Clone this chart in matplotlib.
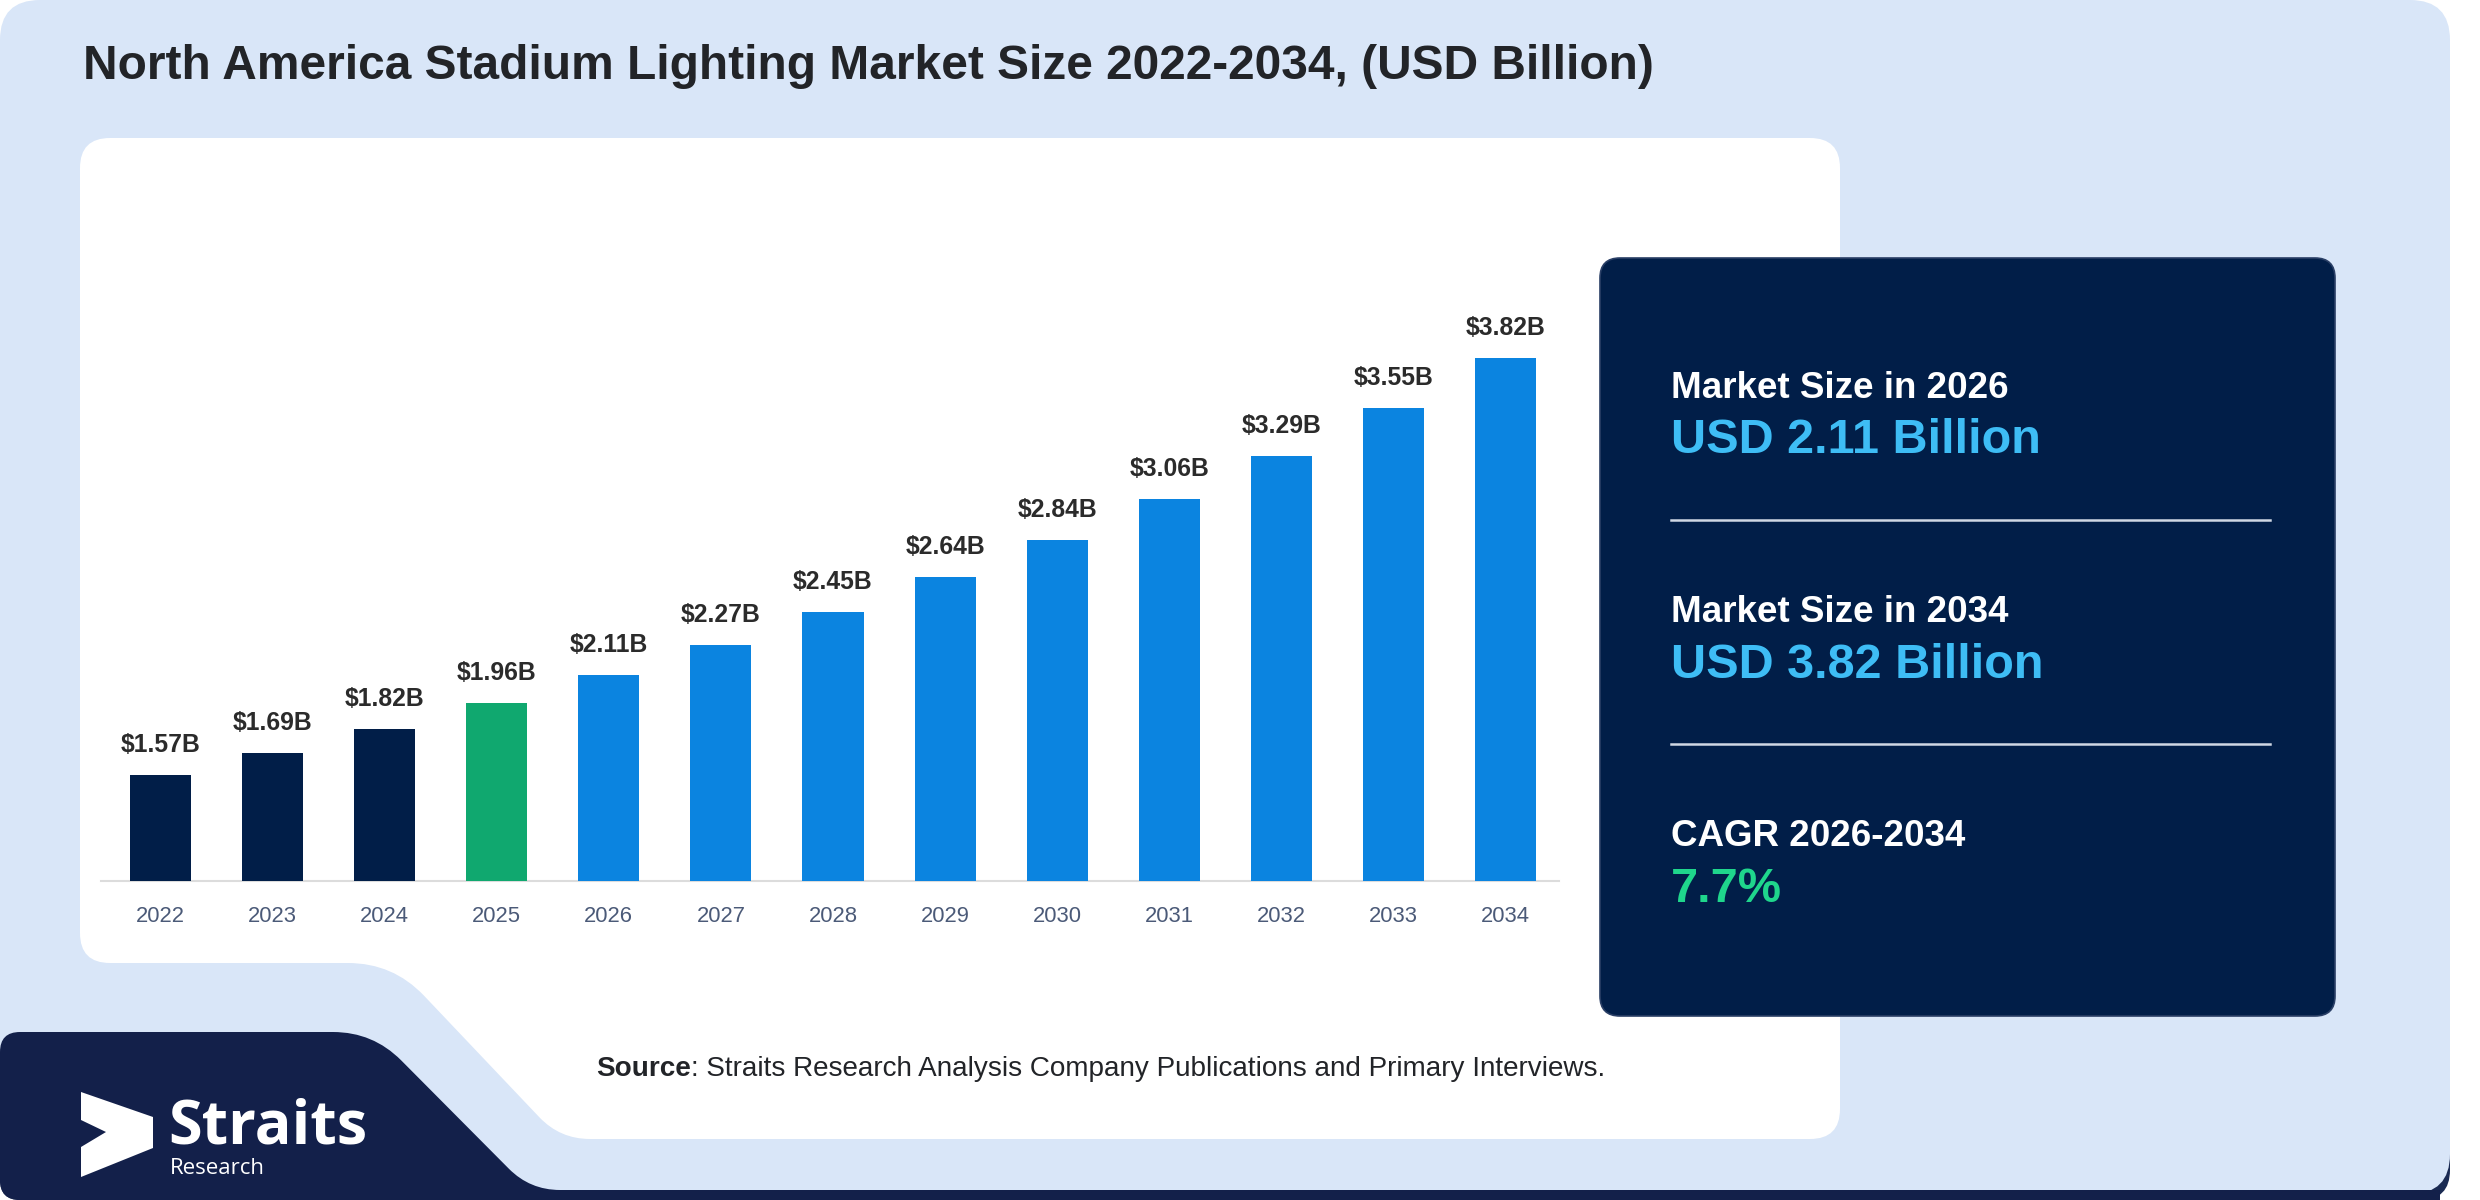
import numpy as np
import matplotlib
matplotlib.use("Agg")
import matplotlib.pyplot as plt
from matplotlib.path import Path
from matplotlib.patches import PathPatch

# ---------------- data ----------------
years = [2022, 2023, 2024, 2025, 2026, 2027, 2028, 2029, 2030, 2031, 2032, 2033, 2034]
values = [1.57, 1.69, 1.82, 1.96, 2.11, 2.27, 2.45, 2.64, 2.84, 3.06, 3.29, 3.55, 3.82]
periods = ["hist", "hist", "hist", "base", "fc", "fc", "fc", "fc", "fc", "fc", "fc", "fc", "fc"]
period_colors = {"hist": "#011e48", "base": "#10a86f", "fc": "#0b84e0"}
title = "North America Stadium Lighting Market Size 2022-2034, (USD Billion)"
source_bold = "Source"
source_rest = ": Straits Research Analysis Company Publications and Primary Interviews."
start_year, end_year = 2026, 2034

W, H = 2480, 1200
DPI = 100
plt.rcParams['font.family'] = ['Liberation Sans', 'DejaVu Sans']

fig = plt.figure(figsize=(W / DPI, H / DPI), dpi=DPI)
fig.patch.set_facecolor("white")

bg = fig.add_axes([0, 0, 1, 1])
bg.set_xlim(0, W)
bg.set_ylim(H, 0)
bg.axis("off")
bg.set_zorder(0)


def rounded_poly(pts, radii, **kw):
    verts, codes = [], []
    n = len(pts)
    for i in range(n):
        p0 = np.array(pts[i - 1], float)
        p1 = np.array(pts[i], float)
        p2 = np.array(pts[(i + 1) % n], float)
        r = radii[i]
        d1 = (p0 - p1) / np.linalg.norm(p0 - p1)
        d2 = (p2 - p1) / np.linalg.norm(p2 - p1)
        a = p1 + d1 * r
        b = p1 + d2 * r
        verts.append(a)
        codes.append(Path.MOVETO if i == 0 else Path.LINETO)
        verts += [p1, b]
        codes += [Path.CURVE3, Path.CURVE3]
    verts.append(verts[0])
    codes.append(Path.CLOSEPOLY)
    return PathPatch(Path(verts, codes), **kw)


# outer light-blue panel and navy bottom strip
bg.add_patch(rounded_poly([(0, 1150), (2450, 1150), (2450, 1200), (0, 1200)],
                          [0, 0, 30, 20], facecolor="#1a2a52", edgecolor="none", zorder=1))
bg.add_patch(rounded_poly([(0, 0), (2450, 0), (2450, 1194), (0, 1194)],
                          [40, 40, 40, 40], facecolor="#d9e6f8", edgecolor="none", zorder=2))
# navy logo shape
bg.add_patch(rounded_poly([(0, 1032), (373, 1032), (530, 1190), (2440, 1190), (2440, 1200), (0, 1200)],
                          [20, 40, 30, 0, 0, 20], facecolor="#13204a", edgecolor="none", zorder=3))
# white card
bg.add_patch(rounded_poly([(80, 138), (1840, 138), (1840, 1139), (560, 1139), (393, 963), (80, 963)],
                          [30, 30, 30, 30, 45, 30], facecolor="white", edgecolor="none", zorder=3))
# navy info panel
bg.add_patch(rounded_poly([(1600, 258), (2335, 258), (2335, 1016), (1600, 1016)],
                          [20, 20, 20, 20], facecolor="#011e48", edgecolor="#2a3f66",
                          linewidth=1.2, zorder=4))

# title
bg.text(83, 79, title, fontsize=34.5, fontweight="bold", color="#222428",
        ha="left", va="baseline", zorder=5)

# info panel text
v_start = values[years.index(start_year)]
v_end = values[years.index(end_year)]
cagr = ((v_end / v_start) ** (1.0 / (end_year - start_year)) - 1) * 100
px = 1671
bg.text(px, 398, f"Market Size in {start_year}", fontsize=26.5, fontweight="bold",
        color="white", va="baseline", zorder=5)
bg.text(px, 453, f"USD {v_start:.2f} Billion", fontsize=35, fontweight="bold",
        color="#3ebdf5", va="baseline", zorder=5)
bg.plot([px, 2270], [520, 520], color="#d0d8e4", lw=1.8, zorder=5)
bg.text(px, 622, f"Market Size in {end_year}", fontsize=26.5, fontweight="bold",
        color="white", va="baseline", zorder=5)
bg.text(px, 678, f"USD {v_end:.2f} Billion", fontsize=35, fontweight="bold",
        color="#3ebdf5", va="baseline", zorder=5)
bg.plot([px, 2270], [744, 744], color="#d0d8e4", lw=1.8, zorder=5)
bg.text(px, 846, f"CAGR {start_year}-{end_year}", fontsize=26.5, fontweight="bold",
        color="white", va="baseline", zorder=5)
bg.text(px, 902, f"{cagr:.1f}%", fontsize=35, fontweight="bold",
        color="#1fd68c", va="baseline", zorder=5)

# source text
t1 = bg.text(596, 1076, source_bold, fontsize=20.1, fontweight="bold", color="#222428",
             va="baseline", zorder=5)
fig.canvas.draw()
r = fig.canvas.get_renderer()
bb = t1.get_window_extent(renderer=r)
bg.text(596 + bb.width, 1076, source_rest, fontsize=20.1, color="#222428",
        va="baseline", zorder=5)

# logo
bg.add_patch(plt.Polygon([(81, 1092), (153, 1117), (153, 1148), (81, 1177), (81, 1147),
                          (106, 1132), (81, 1120)], closed=True, facecolor="white",
                         edgecolor="none", zorder=5))
bg.text(168, 1143, "Straits", fontsize=44, fontweight="bold", color="white",
        family=["Open Sans", "DejaVu Sans"], va="baseline", zorder=5)
bg.text(170, 1174, "Research", fontsize=16, color="white",
        family=["Open Sans", "DejaVu Sans"], va="baseline", zorder=5)

# ---------------- chart axes ----------------
ax_l, ax_r = 101, 1559
ax_b, ax_t = 881, 300
ymin = 1.0
ymax = ymin + (ax_b - ax_t) / 185.5
ax = fig.add_axes([ax_l / W, 1 - ax_b / H, (ax_r - ax_l) / W, (ax_b - ax_t) / H])
ax.set_zorder(6)
ax.patch.set_alpha(0)
x = np.arange(len(years))
cols = [period_colors[p] for p in periods]
bars = ax.bar(x, [v - ymin for v in values], bottom=ymin, width=0.545, color=cols, zorder=3)
ax.set_xlim(-0.531, 12.478)
ax.set_ylim(ymin, ymax)
for xi, v in zip(x, values):
    ax.annotate(f"${v:.2f}B", (xi, v), xytext=(0, 23), textcoords="offset pixels",
                ha="center", va="baseline", fontsize=17.8, fontweight="bold", color="#2b2b2b")
ax.set_xticks(x)
ax.set_xticklabels([str(y) for y in years], fontsize=15.8, color="#4b5a78")
ax.tick_params(axis="x", length=0, pad=18)
ax.set_yticks([])
for s in ["top", "right", "left"]:
    ax.spines[s].set_visible(False)
ax.spines["bottom"].set_color("#dcdcdc")
ax.spines["bottom"].set_linewidth(1.5)

fig.savefig("out.png", dpi=DPI)
